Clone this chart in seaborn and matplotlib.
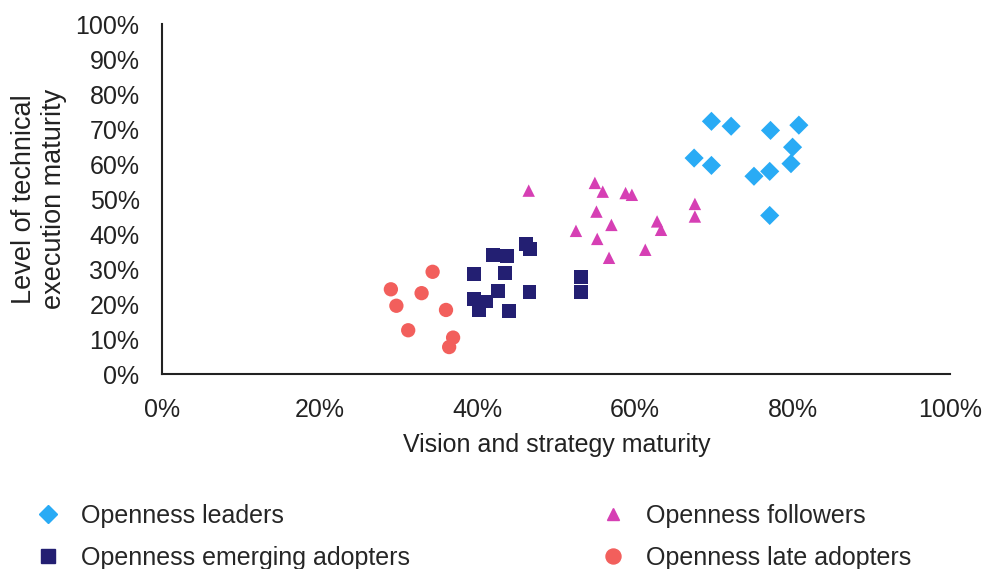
import numpy as np
import pandas as pd
import matplotlib
matplotlib.use('Agg')
import matplotlib.pyplot as plt
import seaborn as sns
from matplotlib.ticker import PercentFormatter

# values (percent)
leaders_x = [69.7, 72.2, 77.2, 80.8, 80.0, 79.8, 77.1, 75.1, 67.5, 69.7, 77.1]
leaders_y = [72.2, 70.8, 69.6, 71.1, 64.8, 60.1, 57.9, 56.5, 61.7, 59.6, 45.3]

followers_x = [46.5, 54.9, 55.9, 58.8, 59.6, 55.1, 57.0, 52.5, 55.2, 56.7, 61.3, 62.8, 63.3, 67.6, 67.6]
followers_y = [52.4, 54.6, 52.1, 51.7, 51.2, 46.4, 42.6, 40.9, 38.6, 33.2, 35.5, 43.6, 41.2, 48.6, 45.0]

emerging_x = [39.6, 42.0, 43.7, 46.2, 46.7, 43.5, 42.6, 46.6, 39.6, 41.1, 40.2, 44.0, 53.1, 53.1]
emerging_y = [28.5, 34.1, 33.8, 37.1, 35.7, 28.8, 23.8, 23.5, 21.4, 20.7, 18.3, 18.0, 27.6, 23.5]

late_x = [34.3, 29.0, 32.9, 29.7, 36.0, 31.2, 36.9, 36.4]
late_y = [29.2, 24.2, 23.1, 19.5, 18.3, 12.5, 10.4, 7.7]

groups = ['Openness leaders', 'Openness emerging adopters', 'Openness followers', 'Openness late adopters']
colors = ['#29abf5', '#231f72', '#d63fb4', '#f25f5c']
markers = ['D', 's', '^', 'o']
sizes = [95, 100, 80, 106]
legend_ms = [8.7, 10, 9, 10.8]

frames = []
for g, xs, ys in zip(groups,
                     [leaders_x, emerging_x, followers_x, late_x],
                     [leaders_y, emerging_y, followers_y, late_y]):
    frames.append(pd.DataFrame({'x': xs, 'y': ys, 'group': g}))
df = pd.concat(frames, ignore_index=True)

sns.set_style('white')
plt.rcParams['font.family'] = ['Liberation Sans', 'DejaVu Sans']

fig = plt.figure(figsize=(9.87, 5.69), dpi=100)
ax = fig.add_axes([0.1646, 0.3427, 0.798, 0.6151])

for g, c, m, s in zip(groups, colors, markers, sizes):
    sub = df[df.group == g]
    sns.scatterplot(data=sub, x='x', y='y', color=c, marker=m, s=s,
                    edgecolor='none', linewidth=0, ax=ax, legend=False)

ax.set_xlim(0, 100)
ax.set_ylim(0, 100)
ax.set_xticks(np.arange(0, 101, 20))
ax.set_yticks(np.arange(0, 101, 10))
ax.xaxis.set_major_formatter(PercentFormatter(decimals=0))
ax.yaxis.set_major_formatter(PercentFormatter(decimals=0))
ax.tick_params(axis='y', labelsize=18, colors='#222222', length=0, pad=16.5)
ax.tick_params(axis='x', labelsize=18, colors='#222222', length=0, pad=17.5)
sns.despine(ax=ax)
for sp in ['left', 'bottom']:
    ax.spines[sp].set_color('#222222')
    ax.spines[sp].set_linewidth(1.5)

ax.set_xlabel('Vision and strategy maturity', fontsize=18, color='#222222', labelpad=8)
ax.set_ylabel('Level of technical\nexecution maturity', fontsize=19.5, color='#222222',
              labelpad=6.5, linespacing=1.2)

handles = [plt.Line2D([], [], marker=m, color=c, linestyle='none', markersize=ms)
           for m, c, ms in zip(markers, colors, legend_ms)]
fig.legend(handles, groups, ncol=2, loc='upper left', bbox_to_anchor=(0.036, 0.114),
           frameon=False, prop={'size': 18}, handlelength=1.0, handletextpad=0.82,
           columnspacing=7.6, labelspacing=0.72, borderpad=0, borderaxespad=0)

fig.savefig('out.png', dpi=100)
